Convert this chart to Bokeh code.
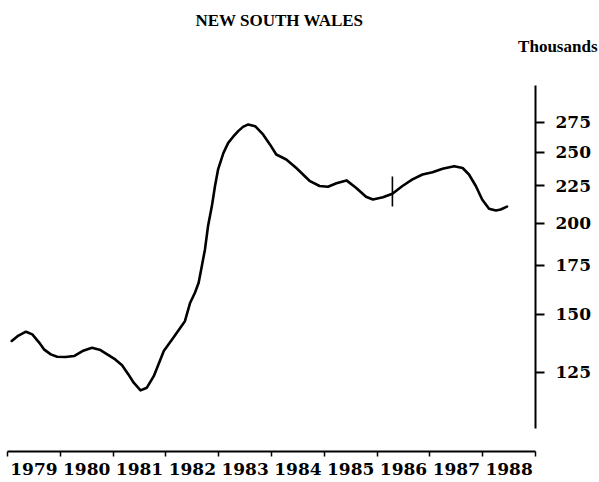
from bokeh.plotting import figure
from bokeh.models import FixedTicker, Range1d, Title, BasicTickFormatter
from bokeh.embed import file_html
from bokeh.resources import INLINE

# ---- data ----
years = [1979.08, 1979.19, 1979.35, 1979.47, 1979.60, 1979.69, 1979.82, 1979.94, 1980.10,
         1980.26, 1980.42, 1980.60, 1980.76, 1980.92, 1981.04, 1981.17, 1981.29, 1981.39,
         1981.52, 1981.64, 1981.77, 1981.96, 1982.14, 1982.36, 1982.46, 1982.55, 1982.62,
         1982.68, 1982.74, 1982.80, 1982.87, 1982.93, 1982.99, 1983.09, 1983.18, 1983.27,
         1983.37, 1983.46, 1983.56, 1983.69, 1983.84, 1983.97, 1984.09, 1984.28, 1984.47,
         1984.72, 1984.91, 1985.07, 1985.23, 1985.42, 1985.60, 1985.79, 1985.92, 1986.11,
         1986.29, 1986.48, 1986.67, 1986.86, 1987.05, 1987.24, 1987.46, 1987.62, 1987.74,
         1987.87, 1987.99, 1988.12, 1988.25, 1988.34, 1988.46]
values = [137.9, 140.0, 142.0, 140.8, 137.2, 134.3, 132.2, 131.2, 131.1,
          131.5, 133.6, 135.0, 134.0, 131.8, 130.1, 127.7, 124.1, 120.9,
          118.0, 119.0, 123.4, 133.6, 139.3, 146.8, 155.6, 160.6, 165.7,
          174.6, 184.1, 198.6, 210.9, 224.9, 237.2, 249.7, 257.7, 262.5,
          267.4, 271.0, 273.1, 271.6, 264.6, 256.4, 248.4, 244.5, 238.0,
          228.6, 224.9, 224.4, 226.8, 228.9, 223.7, 217.4, 215.5, 217.0,
          219.5, 224.9, 229.6, 233.2, 234.9, 237.5, 239.4, 238.0, 233.2,
          224.9, 215.5, 209.3, 208.2, 208.8, 210.7]
marker_year = [1986.29]
marker_lo = [210.8]
marker_hi = [231.8]
year_labels = ["1979", "1980", "1981", "1982", "1983", "1984", "1985", "1986", "1987", "1988"]
y_ticks = [125, 150, 175, 200, 225, 250, 275]
title_text = "NEW SOUTH WALES"
unit_text = "Thousands"

FONT = "DejaVu Serif"
FONT2 = "Liberation Serif"

p = figure(frame_width=528, frame_height=366, y_axis_type="log", y_axis_location="right",
           x_range=Range1d(1979.0, 1989.0), y_range=Range1d(97.3, 308.8),
           output_backend="svg", toolbar_location=None, title=None,
           min_border_left=7, min_border_top=85, min_border_right=64, min_border_bottom=0)
p.outline_line_color = None
p.xgrid.visible = False
p.ygrid.visible = False
p.background_fill_color = "white"
p.border_fill_color = "white"

p.line(years, values, line_color="black", line_width=2.6, line_join="round", line_cap="round")
p.segment(x0=marker_year, y0=marker_lo, x1=marker_year, y1=marker_hi,
          line_color="black", line_width=1.6)

# x axis: boundary ticks at year starts, labels centered on years
xa = p.xaxis[0]
mids = [int(y) + 0.5 for y in year_labels]
bounds = [int(y) for y in year_labels] + [int(year_labels[-1]) + 1]
xa.ticker = FixedTicker(ticks=mids, minor_ticks=bounds)
xa.major_label_overrides = {m: lab for m, lab in zip(mids, year_labels)}
xa.major_tick_out = 0
xa.major_tick_in = 0
xa.minor_tick_out = 5
xa.minor_tick_in = 0
xa.minor_tick_line_width = 1.5
xa.axis_line_width = 2
xa.major_label_standoff = 6
xa.major_label_text_font = FONT
xa.major_label_text_font_style = "bold"
xa.major_label_text_font_size = "17px"
xa.major_label_text_color = "black"

ya = p.yaxis[0]
ya.ticker = FixedTicker(ticks=y_ticks, minor_ticks=[])
ya.formatter = BasicTickFormatter()
ya.bounds = (104.7, 308.8)
ya.major_tick_out = 9
ya.major_tick_in = 0
ya.major_tick_line_width = 2
ya.minor_tick_out = 0
ya.minor_tick_in = 0
ya.axis_line_width = 2
ya.major_label_standoff = 11
ya.major_label_text_font = FONT
ya.major_label_text_font_style = "bold"
ya.major_label_text_font_size = "17px"
ya.major_label_text_color = "black"

# spacer between the frame and the unit label
p.add_layout(Title(text=" ", standoff=4, text_font=FONT2, text_font_size="17px"), "above")
p.add_layout(Title(text=unit_text, align="right", offset=-62, standoff=10,
                   text_font=FONT2, text_font_style="bold", text_font_size="17px",
                   text_color="black"), "above")
p.add_layout(Title(text=title_text, align="left", offset=188, standoff=0,
                   text_font=FONT2, text_font_style="bold", text_font_size="17px",
                   text_color="black"), "above")

open("out.html", "w").write(file_html(p, INLINE))
